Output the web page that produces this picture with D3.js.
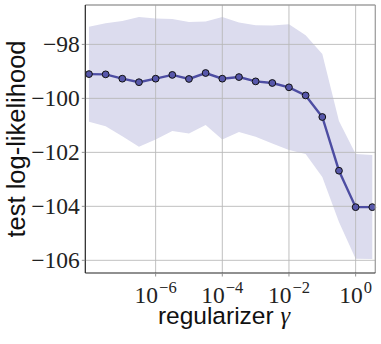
<!DOCTYPE html>
<html>
<head>
<meta charset="utf-8">
<script src="https://cdn.jsdelivr.net/npm/d3@7"></script>
<style>
  body { margin: 0; background: #fff; }
  svg { display: block; }
  .serif { font-family: "Liberation Serif", "DejaVu Serif", serif; }
  .sans { font-family: "Liberation Sans", Arial, sans-serif; }
</style>
</head>
<body>
<svg id="main"></svg>
<script>
// regularizer exponents (gamma = 10^exp)
let gammaExp = [-8, -7.5, -7, -6.5, -6, -5.5, -5, -4.5, -4, -3.5, -3, -2.5, -2, -1.5, -1, -0.5, 0, 0.5]
let meanLL = [-99.10, -99.11, -99.27, -99.40, -99.27, -99.13, -99.28, -99.06, -99.27, -99.21, -99.37, -99.43, -99.59, -99.89, -100.69, -102.68, -104.03, -104.03]
let upperLL = [-97.35, -97.22, -97.13, -96.98, -97.04, -97.06, -97.17, -97.15, -96.98, -97.19, -97.29, -97.30, -97.25, -97.66, -98.36, -100.84, -102.06, -102.10]
let lowerLL = [-100.87, -101.03, -101.40, -101.79, -101.52, -101.21, -101.30, -100.99, -101.52, -101.25, -101.42, -101.67, -101.91, -102.06, -102.91, -104.58, -105.94, -105.95]
let yTicks = [-98, -100, -102, -104, -106]
let xTickExp = [-6, -4, -2, 0]

let width = 381
let height = 344
let padLeft = 85.3, padRight = 375.3, padTop = 5, padBottom = 273

let svg = d3.select('#main').attr('width', width).attr('height', height)

let data = gammaExp.map((e, i) => ({ g: Math.pow(10, e), m: meanLL[i], lo: lowerLL[i], hi: upperLL[i] }))

let xScale = d3.scaleLog()
    .domain([Math.pow(10, -8.11), Math.pow(10, 0.59)])
    .range([padLeft, padRight])
let yScale = d3.scaleLinear()
    .domain([-96.54, -106.47])
    .range([padTop, padBottom])

// band
let area = d3.area()
    .x(d => xScale(d.g))
    .y0(d => yScale(d.lo))
    .y1(d => yScale(d.hi))
svg.append('path')
    .datum(data)
    .attr('d', area)
    .attr('fill', '#dcdcee')

// grid
svg.selectAll('.hgrid')
    .data(yTicks)
    .enter()
    .append('line')
    .attr('x1', padLeft).attr('x2', padRight)
    .attr('y1', d => yScale(d)).attr('y2', d => yScale(d))
    .attr('stroke', '#b9b9b9').attr('stroke-width', 0.9)
svg.selectAll('.vgrid')
    .data(xTickExp)
    .enter()
    .append('line')
    .attr('x1', d => xScale(Math.pow(10, d))).attr('x2', d => xScale(Math.pow(10, d)))
    .attr('y1', padTop).attr('y2', padBottom)
    .attr('stroke', '#b9b9b9').attr('stroke-width', 0.9)

// mean line
let line = d3.line()
    .x(d => xScale(d.g))
    .y(d => yScale(d.m))
svg.append('path')
    .datum(data)
    .attr('d', line)
    .attr('fill', 'none')
    .attr('stroke', '#4d4da2')
    .attr('stroke-width', 2.4)

svg.selectAll('circle')
    .data(data)
    .enter()
    .append('circle')
    .attr('cx', d => xScale(d.g))
    .attr('cy', d => yScale(d.m))
    .attr('r', 3.4)
    .attr('fill', '#5757aa')
    .attr('stroke', '#111')
    .attr('stroke-width', 1)

// frame
svg.append('line').attr('x1', padLeft).attr('x2', padRight).attr('y1', padTop).attr('y2', padTop)
    .attr('stroke', '#a0a0a0').attr('stroke-width', 1.3)
svg.append('line').attr('x1', padRight).attr('x2', padRight).attr('y1', padTop).attr('y2', padBottom)
    .attr('stroke', '#a0a0a0').attr('stroke-width', 1.3)
svg.append('line').attr('x1', padLeft).attr('x2', padLeft).attr('y1', padTop).attr('y2', padBottom)
    .attr('stroke', '#222').attr('stroke-width', 1.2)
svg.append('line').attr('x1', padLeft).attr('x2', padRight).attr('y1', padBottom).attr('y2', padBottom)
    .attr('stroke', '#222').attr('stroke-width', 1.2)

// y ticks
let yAxisG = svg.append('g')
yAxisG.selectAll('line')
    .data(yTicks)
    .enter()
    .append('line')
    .attr('x1', padLeft - 3.5).attr('x2', padLeft)
    .attr('y1', d => yScale(d)).attr('y2', d => yScale(d))
    .attr('stroke', '#888').attr('stroke-width', 0.9)
yAxisG.selectAll('text')
    .data(yTicks)
    .enter()
    .append('text')
    .attr('class', 'serif')
    .attr('x', padLeft - 5.5)
    .attr('y', d => yScale(d) + 7.8)
    .attr('text-anchor', 'end')
    .style('font-size', '23.5px')
    .attr('fill', '#222')
    .text(d => '\u2212' + Math.abs(d))

// x ticks
let xAxisG = svg.append('g')
xAxisG.selectAll('line')
    .data(xTickExp)
    .enter()
    .append('line')
    .attr('x1', d => xScale(Math.pow(10, d))).attr('x2', d => xScale(Math.pow(10, d)))
    .attr('y1', padBottom).attr('y2', padBottom + 3.5)
    .attr('stroke', '#888').attr('stroke-width', 0.9)
let xt = xAxisG.selectAll('text')
    .data(xTickExp)
    .enter()
    .append('text')
    .attr('class', 'serif')
    .attr('x', d => xScale(Math.pow(10, d)))
    .attr('y', 302.5)
    .attr('text-anchor', 'middle')
    .style('font-size', '23.5px')
    .attr('fill', '#222')
xt.append('tspan').text('10')
xt.append('tspan')
    .attr('dx', 1)
    .attr('dy', -9.5)
    .style('font-size', '16.5px')
    .text(d => d < 0 ? '\u2212' + Math.abs(d) : String(d))

// axis labels
svg.append('text')
    .attr('class', 'sans')
    .attr('transform', `translate(24.5, ${(padTop + padBottom) / 2}) rotate(-90)`)
    .attr('text-anchor', 'middle')
    .style('font-size', '25.5px')
    .attr('fill', '#111')
    .text('test log-likelihood')

let xl = svg.append('text')
    .attr('class', 'sans')
    .attr('x', 224)
    .attr('y', 323.5)
    .attr('text-anchor', 'middle')
    .style('font-size', '24.5px')
    .attr('fill', '#111')
xl.append('tspan').text('regularizer ')
xl.append('tspan')
    .attr('class', 'serif')
    .style('font-style', 'italic')
    .text('\u03b3')
</script>
</body>
</html>
